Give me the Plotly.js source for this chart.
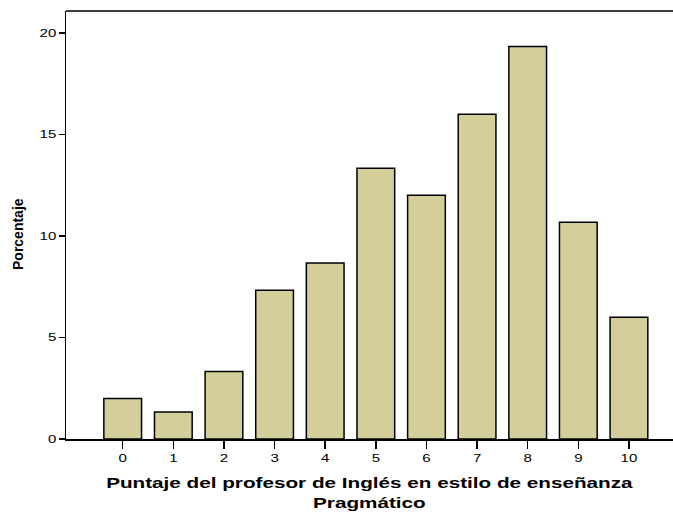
<!DOCTYPE html>
<html>
<head>
<meta charset="utf-8">
<script src="https://cdn.plot.ly/plotly-3.0.1.min.js"></script>
<style>html,body{margin:0;padding:0;background:#fff;overflow:hidden;}</style>
</head>
<body>
<div id="chart" style="width:673px;height:514px;"></div>
<script>
const scores = [0, 1, 2, 3, 4, 5, 6, 7, 8, 9, 10];
const percentages = [2.0, 1.33, 3.33, 7.33, 8.67, 13.33, 12.0, 16.0, 19.33, 10.67, 6.0];
const yTicks = [0, 5, 10, 15, 20];

const trace = {
  type: 'bar',
  x: scores,
  y: percentages,
  width: 0.745,
  marker: {color: '#d3ce9a', line: {color: '#000000', width: 1.5}},
  hoverinfo: 'x+y'
};

const tickFont = {size: 11, family: 'Liberation Sans, Arial, sans-serif', color: '#000'};

const layout = {
  width: 673, height: 514,
  margin: {l: 66, r: 0, t: 11, b: 75},
  paper_bgcolor: '#ffffff', plot_bgcolor: '#ffffff',
  showlegend: false,
  font: {family: 'Liberation Sans, Arial, sans-serif', color: '#000000', size: 11},
  xaxis: {
    range: [-1.12, 10.87],
    tickmode: 'array', tickvals: scores, ticktext: scores.map(String),
    ticks: 'outside', ticklen: 8, tickwidth: 1.5, tickcolor: '#000',
    showline: true, linecolor: '#000', linewidth: 1.5,
    showgrid: false, zeroline: false,
    tickfont: tickFont,
    title: {
      text: '<b>Puntaje del profesor de Inglés en estilo de enseñanza<br>Pragmático</b>',
      font: {size: 15, family: 'Liberation Sans, Arial, sans-serif', color: '#000'},
      standoff: 15
    }
  },
  yaxis: {
    range: [0, 21.08],
    tickmode: 'array', tickvals: yTicks, ticktext: yTicks.map(String),
    ticks: 'outside', ticklen: 6, tickwidth: 1.5, tickcolor: '#000',
    showline: true, linecolor: '#000', linewidth: 1.5,
    showgrid: false, zeroline: false,
    tickfont: tickFont
  },
  annotations: [{
    text: '<b>Porcentaje</b>',
    xref: 'paper', yref: 'paper',
    x: (18 - 66) / 607, y: (439 - 234) / 428,
    xanchor: 'center', yanchor: 'middle',
    textangle: -90, showarrow: false,
    font: {size: 14, family: 'Liberation Sans Narrow, Arial Narrow, sans-serif', color: '#000'}
  }],
  shapes: [{
    type: 'line', xref: 'paper', yref: 'paper', x0: 0, x1: 1, y0: 1, y1: 1,
    line: {color: '#000', width: 1.5}
  }]
};

function stretch(el, sx, pivot) {
  const bb = el.getBBox();
  const px = pivot === 'right' ? bb.x + bb.width : bb.x + bb.width / 2;
  const t = el.getAttribute('transform') || '';
  el.setAttribute('transform', t + ' translate(' + px + ',0) scale(' + sx + ',1) translate(' + (-px) + ',0)');
}

Plotly.newPlot('chart', [trace], layout, {displayModeBar: false, staticPlot: true}).then(function () {
  document.querySelectorAll('.g-xtitle text').forEach(function (t) { stretch(t, 1.38, 'center'); });
  document.querySelectorAll('.xtick text').forEach(function (t) { stretch(t, 1.37, 'center'); });
  document.querySelectorAll('.ytick text').forEach(function (t) { stretch(t, 1.37, 'right'); });
});
</script>
</body>
</html>
